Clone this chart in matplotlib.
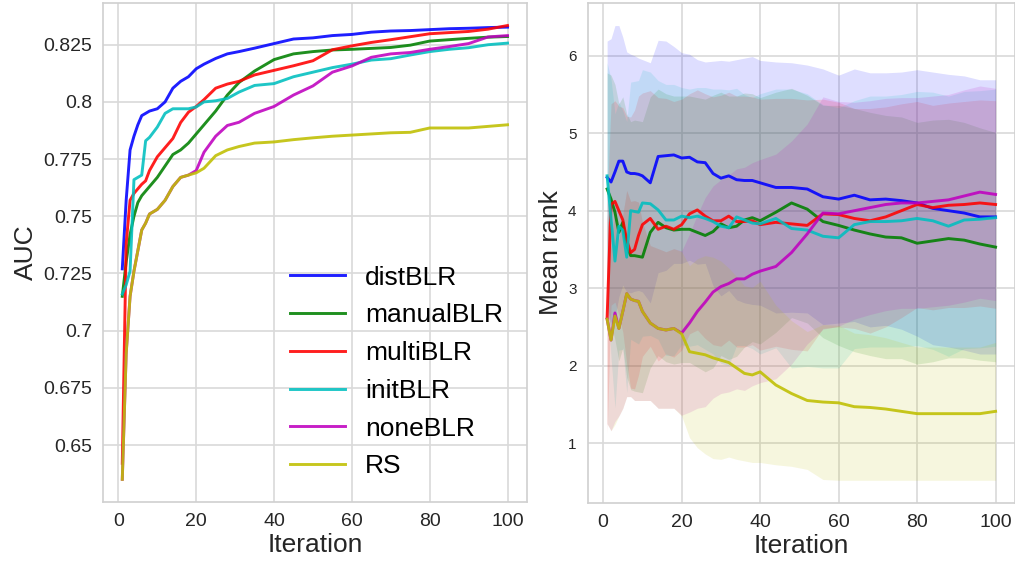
import numpy as np
import matplotlib
matplotlib.use("Agg")
import matplotlib.pyplot as plt

# ---- data ----
names = ['distBLR', 'manualBLR', 'multiBLR', 'initBLR', 'noneBLR', 'RS']
colors = ['b', 'g', 'r', 'c', 'm', 'y']

# left panel: best AUC so far
auc_iters = [1, 2, 3, 4, 5, 6, 7, 8, 10, 12, 14, 16, 18, 20, 22, 25, 28, 31,
             35, 40, 45, 50, 55, 60, 65, 70, 75, 80, 85, 90, 95, 100]
auc_dist = [0.727, 0.757, 0.779, 0.785, 0.790, 0.794, 0.795, 0.796, 0.797, 0.800,
            0.806, 0.809, 0.811, 0.8145, 0.8165, 0.819, 0.821, 0.822, 0.8235, 0.8255,
            0.8275, 0.828, 0.829, 0.8295, 0.8305, 0.831, 0.8312, 0.8316, 0.832, 0.8322,
            0.8325, 0.8327]
auc_manual = [0.715, 0.730, 0.742, 0.750, 0.756, 0.759, 0.761, 0.763, 0.767, 0.772,
              0.777, 0.779, 0.782, 0.786, 0.790, 0.796, 0.803, 0.8085, 0.8135, 0.8185,
              0.821, 0.822, 0.8227, 0.823, 0.8234, 0.8238, 0.8248, 0.8266, 0.8272, 0.8278,
              0.8283, 0.8286]
auc_multi = [0.642, 0.738, 0.757, 0.760, 0.762, 0.764, 0.7655, 0.770, 0.776, 0.780,
             0.784, 0.791, 0.7955, 0.798, 0.801, 0.806, 0.8078, 0.809, 0.8118, 0.8138,
             0.8158, 0.818, 0.8228, 0.8245, 0.826, 0.8272, 0.8285, 0.8298, 0.8303, 0.8308,
             0.8318, 0.8334]
auc_init = [0.716, 0.720, 0.726, 0.766, 0.767, 0.768, 0.783, 0.7845, 0.789, 0.795,
            0.797, 0.797, 0.797, 0.7978, 0.800, 0.8005, 0.8015, 0.8043, 0.8072, 0.808,
            0.811, 0.813, 0.815, 0.8165, 0.8183, 0.8189, 0.8205, 0.822, 0.823, 0.8237,
            0.825, 0.8257]
auc_none = [0.635, 0.690, 0.715, 0.726, 0.735, 0.744, 0.747, 0.751, 0.753, 0.757,
            0.763, 0.767, 0.768, 0.770, 0.778, 0.785, 0.7897, 0.7911, 0.795, 0.798,
            0.803, 0.807, 0.813, 0.8157, 0.8195, 0.821, 0.8216, 0.823, 0.8242, 0.8255,
            0.8284, 0.829]
auc_rs = [0.635, 0.690, 0.715, 0.726, 0.735, 0.744, 0.747, 0.751, 0.753, 0.757,
          0.763, 0.767, 0.768, 0.769, 0.771, 0.7765, 0.779, 0.7805, 0.782, 0.7825,
          0.7835, 0.7843, 0.785, 0.7855, 0.786, 0.7865, 0.7867, 0.7886, 0.7886, 0.7886,
          0.7893, 0.790]

# right panel: mean rank and its spread
rank_iters = [1, 2, 3, 4, 5, 6, 7, 8, 9, 10,
              12, 14, 16, 18, 20, 22, 24, 26, 28, 30, 32, 34, 36, 38, 40,
              44, 48, 52, 56, 60, 64, 68, 72, 76, 80, 84, 88, 92, 96, 100]
rank_dist = [4.43, 4.37, 4.50, 4.64, 4.64, 4.50, 4.48, 4.48, 4.47, 4.45,
             4.36, 4.70, 4.71, 4.72, 4.68, 4.69, 4.63, 4.62, 4.48, 4.42, 4.45, 4.40, 4.39, 4.39, 4.36,
             4.30, 4.30, 4.28, 4.18, 4.15, 4.20, 4.14, 4.15, 4.13, 4.10, 4.03, 4.00, 3.97, 3.92, 3.92]
rank_manual = [4.28, 4.15, 3.98, 3.72, 3.85, 3.55, 3.42, 3.42, 3.41, 3.40,
               3.72, 3.85, 3.78, 3.75, 3.76, 3.76, 3.72, 3.68, 3.73, 3.83, 3.78, 3.80, 3.88, 3.91, 3.87,
               3.98, 4.10, 4.02, 3.86, 3.81, 3.75, 3.70, 3.66, 3.65, 3.58, 3.61, 3.64, 3.62, 3.57, 3.53]
rank_multi = [2.62, 4.08, 4.12, 4.00, 3.88, 3.62, 3.46, 3.50, 3.68, 3.82,
              3.90, 3.76, 3.80, 3.76, 3.82, 3.96, 4.01, 3.93, 3.87, 3.87, 3.93, 3.86, 3.86, 3.87, 3.82,
              3.85, 3.83, 3.81, 3.96, 3.95, 3.90, 3.87, 3.92, 4.00, 4.08, 4.04, 4.07, 4.08, 4.10, 4.08]
rank_init = [4.45, 3.90, 3.35, 3.80, 3.75, 3.40, 4.00, 3.99, 3.98, 4.10,
             4.09, 4.01, 3.88, 3.88, 3.93, 3.91, 3.93, 3.90, 3.86, 3.80, 3.78, 3.92, 3.88, 3.84, 3.83,
             3.90, 3.77, 3.75, 3.67, 3.65, 3.82, 3.86, 3.86, 3.87, 3.90, 3.87, 3.80, 3.88, 3.89, 3.91]
rank_none = [2.60, 2.33, 2.68, 2.48, 2.70, 2.93, 2.86, 2.84, 2.83, 2.70,
             2.55, 2.48, 2.46, 2.48, 2.42, 2.55, 2.70, 2.82, 2.95, 3.02, 3.06, 3.12, 3.12, 3.18, 3.22,
             3.28, 3.46, 3.70, 3.97, 3.96, 4.00, 4.04, 4.08, 4.10, 4.10, 4.12, 4.14, 4.19, 4.24, 4.21]
rank_rs = [2.60, 2.33, 2.64, 2.48, 2.70, 2.93, 2.86, 2.84, 2.83, 2.70,
           2.55, 2.48, 2.46, 2.48, 2.41, 2.18, 2.16, 2.14, 2.10, 2.07, 2.04, 1.97, 1.90, 1.88, 1.92,
           1.75, 1.64, 1.55, 1.53, 1.52, 1.47, 1.46, 1.44, 1.41, 1.38, 1.38, 1.38, 1.38, 1.38, 1.41]

std_dist = [1.76, 1.85, 1.89, 1.75, 1.60, 1.55, 1.54, 1.52, 1.50, 1.50,
            1.55, 1.50, 1.48, 1.40, 1.36, 1.33, 1.32, 1.30, 1.45, 1.52, 1.48, 1.55, 1.58, 1.60, 1.58,
            1.62, 1.61, 1.60, 1.65, 1.60, 1.63, 1.64, 1.63, 1.66, 1.72, 1.76, 1.76, 1.77, 1.77, 1.77]
std_manual = [1.50, 1.60, 1.65, 1.66, 1.62, 1.70, 1.73, 1.75, 1.75, 1.75,
              1.75, 1.72, 1.73, 1.73, 1.72, 1.72, 1.74, 1.76, 1.76, 1.70, 1.70, 1.68, 1.64, 1.60, 1.59,
              1.55, 1.48, 1.47, 1.50, 1.55, 1.57, 1.57, 1.57, 1.56, 1.56, 1.56, 1.54, 1.52, 1.50, 1.48]
std_multi = [1.50, 1.30, 1.30, 1.35, 1.45, 1.60, 1.75, 1.80, 1.80, 1.70,
             1.65, 1.70, 1.65, 1.65, 1.62, 1.55, 1.55, 1.58, 1.60, 1.62, 1.60, 1.62, 1.62, 1.60, 1.62,
             1.60, 1.62, 1.62, 1.48, 1.45, 1.42, 1.45, 1.42, 1.38, 1.33, 1.32, 1.32, 1.33, 1.33, 1.34]
std_init = [1.46, 1.80, 1.90, 1.60, 1.54, 1.75, 1.66, 1.68, 1.70, 1.72,
            1.70, 1.67, 1.75, 1.75, 1.66, 1.66, 1.66, 1.69, 1.71, 1.77, 1.78, 1.66, 1.62, 1.62, 1.68,
            1.67, 1.80, 1.76, 1.70, 1.68, 1.60, 1.62, 1.62, 1.63, 1.64, 1.66, 1.68, 1.66, 1.66, 1.66]
std_none = [1.35, 1.17, 1.40, 1.13, 1.25, 1.33, 1.26, 1.29, 1.28, 1.15,
            1.00, 1.03, 1.01, 1.03, 1.06, 1.15, 1.25, 1.35, 1.37, 1.38, 1.40, 1.42, 1.44, 1.44, 1.44,
            1.45, 1.44, 1.42, 1.50, 1.45, 1.40, 1.38, 1.37, 1.36, 1.36, 1.36, 1.36, 1.37, 1.37, 1.37]
std_rs = [1.35, 1.17, 1.40, 1.13, 1.25, 1.33, 1.26, 1.29, 1.28, 1.15,
          1.00, 1.03, 1.01, 1.03, 1.06, 1.11, 1.22, 1.28, 1.30, 1.28, 1.22, 1.18, 1.13, 1.13, 1.17,
          1.03, 0.94, 0.89, 1.00, 1.00, 0.95, 0.94, 0.92, 0.89, 0.86, 0.86, 0.86, 0.86, 0.86, 0.89]

auc_ticks = [0.65, 0.675, 0.7, 0.725, 0.75, 0.775, 0.8, 0.825]
auc_ticklabels = ['0.65', '0.675', '0.7', '0.725', '0.75', '0.775', '0.8', '0.825']
rank_ticks = [1, 2, 3, 4, 5, 6]
iter_ticks = [0, 20, 40, 60, 80, 100]

auc_all = [auc_dist, auc_manual, auc_multi, auc_init, auc_none, auc_rs]
rank_all = [rank_dist, rank_manual, rank_multi, rank_init, rank_none, rank_rs]
std_all = [std_dist, std_manual, std_multi, std_init, std_none, std_rs]

# ---- style (seaborn whitegrid look) ----
plt.rcParams['font.family'] = ['Liberation Sans', 'DejaVu Sans']
plt.rcParams['axes.edgecolor'] = '#d0d0d0'
plt.rcParams['axes.linewidth'] = 1.2
plt.rcParams['grid.color'] = '#d9d9d9'
plt.rcParams['grid.linewidth'] = 1.2
plt.rcParams['xtick.color'] = '#262626'
plt.rcParams['ytick.color'] = '#262626'
plt.rcParams['axes.labelcolor'] = '#262626'

fig = plt.figure(figsize=(10.15, 5.65), dpi=100)
ax1 = fig.add_axes([0.1015, 0.1115, 0.4175, 0.8835])
ax2 = fig.add_axes([0.579, 0.1097, 0.421, 0.8853])

for ax in (ax1, ax2):
    ax.grid(True)
    ax.set_axisbelow(True)
    ax.tick_params(length=0)

# left
for vals, c, n in zip(auc_all, colors, names):
    ax1.plot(auc_iters, vals, color=c, alpha=0.88, lw=2.1, label=n)
ax1.set_yticks(auc_ticks)
ax1.set_yticklabels(auc_ticklabels)
ax1.set_xticks(iter_ticks)
ax1.tick_params(axis='both', labelsize=14, pad=8)
ax1.set_xlabel('Iteration', fontsize=19, labelpad=2)
ax1.set_ylabel('AUC', fontsize=19, labelpad=4)
ax1.legend(loc='lower right', frameon=False, fontsize=19, handlelength=2.1,
           handletextpad=0.75, labelspacing=0.52)

# right
x = np.array(rank_iters)
for m, s, c in zip(rank_all, std_all, colors):
    m = np.array(m)
    s = np.array(s)
    ax2.plot(x, m, color=c, alpha=0.88, lw=2.1)
    ax2.fill_between(x, m - s, m + s, color=c, alpha=0.13, lw=0)
ax2.set_yticks(rank_ticks)
ax2.set_xticks(iter_ticks)
ax2.tick_params(axis='x', labelsize=14, pad=8)
ax2.tick_params(axis='y', labelsize=11, pad=8)
ax2.set_xlabel('Iteration', fontsize=19, labelpad=2)
ax2.set_ylabel('Mean rank', fontsize=19, labelpad=4)

fig.savefig('out.png', dpi=100)
